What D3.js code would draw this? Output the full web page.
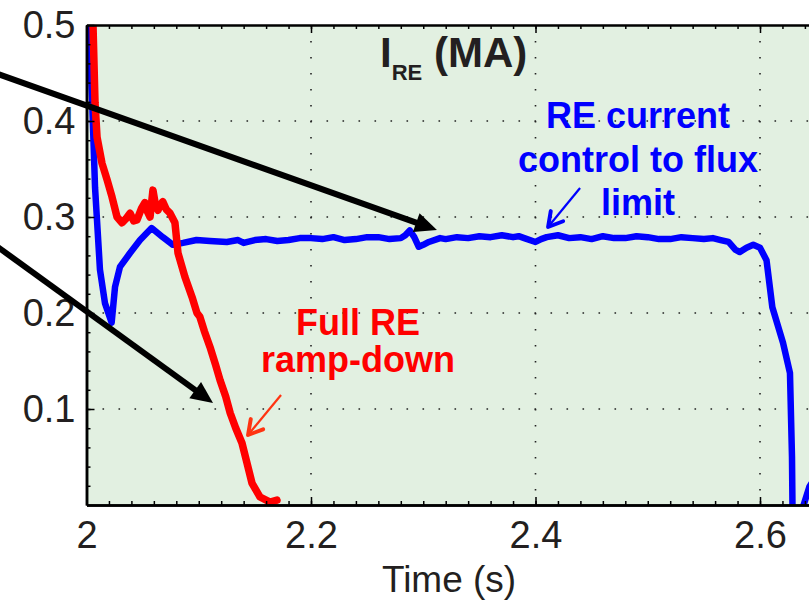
<!DOCTYPE html>
<html>
<head>
<meta charset="utf-8">
<script src="https://cdn.jsdelivr.net/npm/d3@7"></script>
<style>
  body { margin: 0; background: #fff; }
  svg { display: block; font-family: "Liberation Sans", Arial, Helvetica, sans-serif; }
</style>
</head>
<body>
<div id="chart"></div>
<script>
// blue trace: RE current control to flux limit
const blueTime = [2.000, 2.0022, 2.0049, 2.0076, 2.012, 2.0165, 2.0224, 2.0254, 2.0298, 2.0388, 2.0477, 2.058,
  2.068, 2.077, 2.086, 2.098, 2.11, 2.125, 2.135, 2.14, 2.15, 2.16, 2.17, 2.18, 2.19, 2.20, 2.21, 2.22, 2.23,
  2.24, 2.25, 2.26, 2.27, 2.28, 2.284, 2.288, 2.292, 2.296, 2.30, 2.305, 2.315, 2.32, 2.33, 2.34, 2.35, 2.36,
  2.37, 2.38, 2.385, 2.39, 2.40, 2.405, 2.41, 2.42, 2.43, 2.44, 2.45, 2.46, 2.47, 2.48, 2.49, 2.50, 2.51, 2.52,
  2.53, 2.54, 2.55, 2.558, 2.565, 2.572, 2.578, 2.582, 2.588, 2.594, 2.600, 2.6058, 2.611, 2.6205, 2.6267,
  2.6285, 2.629, 2.6375, 2.644, 2.655];
const blueCurrent = [0.53, 0.50, 0.425, 0.331, 0.245, 0.210, 0.190, 0.227, 0.248, 0.2625, 0.276, 0.2885,
  0.279, 0.271, 0.273, 0.276, 0.275, 0.274, 0.276, 0.273, 0.276, 0.277, 0.275, 0.276, 0.278, 0.278, 0.277, 0.279, 0.276,
  0.277, 0.279, 0.279, 0.277, 0.278, 0.281, 0.286, 0.279, 0.269, 0.271, 0.274, 0.278, 0.277, 0.279, 0.278, 0.280, 0.279,
  0.281, 0.279, 0.280, 0.278, 0.274, 0.277, 0.279, 0.281, 0.278, 0.279, 0.277, 0.280, 0.278, 0.278, 0.280, 0.279, 0.277, 0.277,
  0.279, 0.278, 0.277, 0.278, 0.276, 0.274, 0.266, 0.2635, 0.268, 0.271, 0.268, 0.255, 0.206, 0.169, 0.1375,
  0.05, -0.01, -0.005, 0.019, 0.04];

// red trace: full RE ramp-down
const redTime = [2.004, 2.0058, 2.0076, 2.0094, 2.0138, 2.0183, 2.0227, 2.0272, 2.0316, 2.035, 2.0388, 2.042,
  2.045, 2.049, 2.052, 2.0545, 2.0566, 2.0592, 2.0615, 2.0637, 2.066, 2.068, 2.071, 2.0744, 2.0788, 2.0815,
  2.0877, 2.094, 2.0984, 2.101, 2.105, 2.110, 2.115, 2.119, 2.124, 2.128, 2.133, 2.1385, 2.143, 2.1474,
  2.1546, 2.1635, 2.1697];
const redCurrent = [0.56, 0.50, 0.419, 0.383, 0.356, 0.339, 0.321, 0.300, 0.294, 0.298, 0.304, 0.296,
  0.297, 0.309, 0.315, 0.305, 0.300, 0.328, 0.312, 0.307, 0.313, 0.316, 0.308, 0.304, 0.294, 0.2625,
  0.2375, 0.2167, 0.200, 0.196, 0.181, 0.1646, 0.146, 0.130, 0.113, 0.0958, 0.080, 0.0646, 0.0437, 0.0229,
  0.0083, 0.003, 0.005];

const xMajor = [2, 2.2, 2.4, 2.6];
const xMinor = d3.range(2.02, 2.7, 0.02);
const yMajor = [0.1, 0.2, 0.3, 0.4, 0.5];
const yMinor = d3.range(0.02, 0.5, 0.02);
const xGrid = [2.2, 2.4, 2.6];
const yGrid = [0.1, 0.2, 0.3, 0.4];

const width = 809, height = 602;
const margin = { left: 86.5, top: 25, bottom: 97 };

const x = d3.scaleLinear().domain([2, 2.7]).range([margin.left, margin.left + 0.7 * 1122.5]);
const y = d3.scaleLinear().domain([0, 0.5]).range([height - margin.bottom, margin.top]);

const svg = d3.select("#chart").append("svg")
  .attr("width", width)
  .attr("height", height);

svg.append("defs").append("clipPath")
  .attr("id", "plotClip")
  .append("rect")
  .attr("x", x(2)).attr("y", y(0.5))
  .attr("width", x(2.7) - x(2)).attr("height", y(0) - y(0.5));

// plot background
svg.append("rect")
  .attr("x", x(2)).attr("y", y(0.5))
  .attr("width", x(2.7) - x(2)).attr("height", y(0) - y(0.5))
  .attr("fill", "#e2f0e1");

// dotted grid
const grid = svg.append("g")
  .attr("stroke", "#222")
  .attr("stroke-width", 1.6)
  .attr("stroke-dasharray", "1.6,14.4");
grid.selectAll("line.gx").data(xGrid).enter().append("line")
  .attr("x1", d => x(d)).attr("x2", d => x(d))
  .attr("y1", y(0.5)).attr("y2", y(0));
grid.selectAll("line.gy").data(yGrid).enter().append("line")
  .attr("x1", x(2)).attr("x2", x(2.7))
  .attr("y1", d => y(d)).attr("y2", d => y(d));

// traces
const line = d3.line()
  .x(d => x(d[0]))
  .y(d => y(d[1]));

const plot = svg.append("g").attr("clip-path", "url(#plotClip)");

plot.append("path")
  .datum(blueTime.map((t, i) => [t, blueCurrent[i]]))
  .attr("d", line)
  .attr("fill", "none")
  .attr("stroke", "#0000ff")
  .attr("stroke-width", 6.5)
  .attr("stroke-linejoin", "round")
  .attr("stroke-linecap", "round");

plot.append("path")
  .datum(redTime.map((t, i) => [t, redCurrent[i]]))
  .attr("d", line)
  .attr("fill", "none")
  .attr("stroke", "#ff0000")
  .attr("stroke-width", 7.5)
  .attr("stroke-linejoin", "round")
  .attr("stroke-linecap", "round");

// axes
function styleAxis(g) {
  g.select(".domain").attr("stroke", "#000").attr("stroke-width", 2.5);
  g.selectAll(".tick line").attr("stroke", "#000").attr("stroke-width", 1.5);
  g.selectAll(".tick text")
    .attr("fill", "#231f20")
    .style("font-size", "38px");
}

svg.append("g")
  .attr("transform", `translate(0,${y(0)})`)
  .call(d3.axisBottom(x).tickValues(xMinor).tickSize(-4).tickSizeOuter(0).tickFormat(""))
  .call(styleAxis);
svg.append("g")
  .attr("transform", `translate(0,${y(0)})`)
  .call(d3.axisBottom(x).tickValues(xMajor).tickSize(-8).tickSizeOuter(0).tickPadding(16)
    .tickFormat(d => String(+d.toFixed(1))))
  .call(styleAxis);

svg.append("g")
  .attr("transform", `translate(0,${y(0.5)})`)
  .call(d3.axisTop(x).tickValues(xMinor).tickSize(-4).tickSizeOuter(0).tickFormat(""))
  .call(styleAxis)
  .call(g => g.select(".domain").attr("stroke-width", 2));
svg.append("g")
  .attr("transform", `translate(0,${y(0.5)})`)
  .call(d3.axisTop(x).tickValues(xMajor).tickSize(-8).tickSizeOuter(0).tickFormat(""))
  .call(styleAxis)
  .call(g => g.select(".domain").attr("stroke-width", 2));

svg.append("g")
  .attr("transform", `translate(${x(2)},0)`)
  .call(d3.axisLeft(y).tickValues(yMinor).tickSize(-4).tickSizeOuter(0).tickFormat(""))
  .call(styleAxis);
svg.append("g")
  .attr("transform", `translate(${x(2)},0)`)
  .call(d3.axisLeft(y).tickValues(yMajor).tickSize(-8).tickSizeOuter(0).tickPadding(11)
    .tickFormat(d3.format(".1f")))
  .call(styleAxis);

// x axis label
svg.append("text")
  .attr("x", x(2.323))
  .attr("y", 592)
  .attr("text-anchor", "middle")
  .attr("fill", "#231f20")
  .style("font-size", "37px")
  .text("Time (s)");

// title I_RE (MA)
const title = svg.append("text")
  .attr("x", x(2.2615))
  .attr("y", y(0.4562))
  .attr("fill", "#231f20")
  .style("font-size", "42px")
  .style("font-weight", "bold");
title.append("tspan").text("I");
title.append("tspan").attr("dy", 13).style("font-size", "22px").text("RE");
title.append("tspan").attr("dy", -13).text(" (MA)");

// arrows
function arrow(from, to, color, lw, headLen, headW, filled) {
  const x1 = x(from[0]), y1 = y(from[1]), x2 = x(to[0]), y2 = y(to[1]);
  const ang = Math.atan2(y2 - y1, x2 - x1);
  const bx = x2 - headLen * Math.cos(ang), by = y2 - headLen * Math.sin(ang);
  const px = -Math.sin(ang) * headW / 2, py = Math.cos(ang) * headW / 2;
  const g = svg.append("g");
  g.append("line")
    .attr("x1", x1).attr("y1", y1)
    .attr("x2", filled ? bx + headLen * 0.3 * Math.cos(ang) : x2)
    .attr("y2", filled ? by + headLen * 0.3 * Math.sin(ang) : y2)
    .attr("stroke", color).attr("stroke-width", lw);
  if (filled) {
    g.append("polygon")
      .attr("points", [[x2, y2], [bx + px, by + py], [bx - px, by - py]].map(p => p.join(",")).join(" "))
      .attr("fill", color);
  } else {
    g.append("polyline")
      .attr("points", [[bx + px, by + py], [x2, y2], [bx - px, by - py]].map(p => p.join(",")).join(" "))
      .attr("fill", "none")
      .attr("stroke", color)
      .attr("stroke-width", lw * 1.8)
      .attr("stroke-linecap", "round")
      .attr("stroke-linejoin", "round");
  }
}

arrow([1.9185, 0.45], [2.3122, 0.2865], "#000", 6, 22, 20, true);
arrow([1.9185, 0.2708], [2.1127, 0.1063], "#000", 6, 22, 20, true);
arrow([2.4397, 0.3302], [2.4112, 0.2896], "#0000ff", 2.2, 14, 16, false);
arrow([2.1733, 0.1146], [2.1439, 0.0729], "#ff3311", 2.2, 14, 16, false);

// annotation text
const blueNote = ["RE current", "control to flux", "limit"];
const blueNoteY = [0.3927, 0.3469, 0.3021];
svg.selectAll("text.blueNote").data(blueNote).enter().append("text")
  .attr("class", "blueNote")
  .attr("x", x(2.4913))
  .attr("y", (d, i) => y(blueNoteY[i]))
  .attr("text-anchor", "middle")
  .attr("fill", "#0000ff")
  .style("font-size", "36px")
  .style("font-weight", "bold")
  .text(d => d);

const redNote = ["Full RE", "ramp-down"];
const redNoteY = [0.1771, 0.1385];
svg.selectAll("text.redNote").data(redNote).enter().append("text")
  .attr("class", "redNote")
  .attr("x", x(2.2419))
  .attr("y", (d, i) => y(redNoteY[i]))
  .attr("text-anchor", "middle")
  .attr("fill", "#ff0000")
  .style("font-size", "36px")
  .style("font-weight", "bold")
  .text(d => d);
</script>
</body>
</html>
